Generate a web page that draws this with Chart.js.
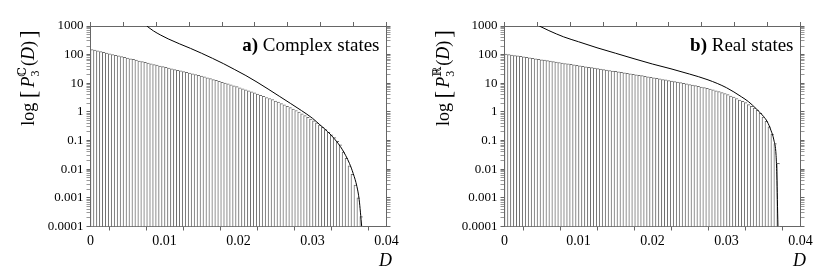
<!DOCTYPE html>
<html>
<head>
<meta charset="utf-8">
<script src="https://cdn.jsdelivr.net/npm/chart.js@4.4.1/dist/chart.umd.min.js"></script>
<style>
  body { margin: 0; background: #fff; }
  #wrap { display: flex; width: 830px; height: 280px; }
  canvas { display: block; }
</style>
</head>
<body>
<div id="wrap">
  <canvas id="chartA" width="415" height="280"></canvas>
  <canvas id="chartB" width="415" height="280"></canvas>
</div>
<script>
// histogram bin width in D
const binWidth = 0.0004;

// a) complex states, histogram heights (bins of 0.0004 starting at D = 0)
const barsA = [151, 143, 135, 127, 120, 114, 107, 101, 95, 90,
  85, 80, 76, 72, 68, 64, 60, 57, 54, 51,
  48, 45, 43, 40, 38, 36, 34, 32, 30, 28.5,
  27, 25.4, 24, 22.6, 21.4, 20.2, 19.1, 18.0, 16.7, 15.6,
  14.5, 13.5, 12.6, 11.7, 10.9, 10.2, 9.5, 8.8, 8.2, 7.6,
  7.0, 6.4, 5.9, 5.4, 5.0, 4.6, 4.2, 3.8, 3.5, 3.2,
  2.95, 2.7, 2.4, 2.2, 1.95, 1.78, 1.58, 1.41, 1.26, 1.12,
  0.98, 0.85, 0.74, 0.65, 0.56, 0.49, 0.42, 0.35, 0.29, 0.24,
  0.195, 0.16, 0.126, 0.095, 0.071, 0.04, 0.024, 0.013, 0.0066, 0.0028,
  0.001, 0.00022];

// a) analytic curve
const curveA_D = [0.0076, 0.0085, 0.0095, 0.0105, 0.012, 0.0135, 0.015, 0.0165, 0.018, 0.0195,
  0.021, 0.0225, 0.024, 0.0255, 0.027, 0.0285, 0.030, 0.031, 0.032, 0.033,
  0.034, 0.035, 0.0355, 0.036, 0.0363, 0.03665];
const curveA_P = [1000, 676, 479, 355, 240, 166, 112, 74, 48, 30,
  18.6, 11.0, 6.3, 3.55, 2.0, 1.12, 0.60, 0.355, 0.21, 0.112,
  0.05, 0.0158, 0.0071, 0.0025, 0.00089, 0.0001];

// b) real states, histogram heights
const barsB = [105, 101, 97, 93.5, 90, 86.7, 83.5, 80.4, 77.4, 74.5,
  71.8, 69.2, 66.5, 64.1, 61.7, 59.4, 57.3, 55.1, 53.1, 51.1,
  49.2, 47.4, 45.6, 44.0, 42.3, 40.7, 39.3, 37.8, 36.4, 35.0,
  33.7, 32.5, 31.3, 30.1, 29.0, 27.9, 26.9, 25.9, 24.9, 24.0,
  23.1, 22.3, 21.4, 20.7, 19.9, 19.1, 18.4, 17.6, 16.9, 16.2,
  15.6, 14.9, 14.3, 13.6, 13.1, 12.5, 12.0, 11.5, 11.0, 10.5,
  10.0, 9.5, 9.1, 8.7, 8.3, 7.9, 7.4, 7.1, 6.7, 6.3,
  5.9, 5.5, 5.1, 4.7, 4.4, 4.0, 3.6, 3.3, 2.95, 2.6,
  2.35, 2.1, 1.8, 1.58, 1.35, 1.15, 0.89, 0.66, 0.47, 0.30,
  0.166, 0.079, 0.016];

// b) analytic curve
const curveB_D = [0.0047, 0.006, 0.008, 0.01, 0.0125, 0.015, 0.0175, 0.02, 0.0225, 0.025,
  0.0275, 0.03, 0.032, 0.033, 0.034, 0.035, 0.0355, 0.036, 0.0364, 0.0367,
  0.0368, 0.03695];
const curveB_P = [1000, 690, 417, 282, 174, 112, 72, 47, 32, 21,
  13.2, 7.0, 3.4, 2.25, 1.3, 0.7, 0.46, 0.23, 0.105, 0.03,
  0.0063, 0.0001];

// axes
const xLabels = ['0', '0.01', '0.02', '0.03', '0.04'];
const yDecades = [0.0001, 0.001, 0.01, 0.1, 1, 10, 100, 1000];
const yLabels = ['0.0001', '0.001', '0.01', '0.1', '1', '10', '100', '1000'];

const SERIF = "'Liberation Serif', 'DejaVu Serif', serif";
const AXIS = '#666';

let yTicks = [];
yDecades.forEach((d, i) => {
    yTicks.push(d);
    if (i < yDecades.length - 1) {
        for (let k = 2; k <= 9; k++) yTicks.push(d * k);
    }
});

const xTickLabel = (v) => {
    const k = Math.round(v / 0.005);
    return k % 2 === 0 ? xLabels[k / 2] : '';
}

const yTickLabel = (v) => {
    const i = yDecades.indexOf(v);
    return i >= 0 ? yLabels[i] : '';
}

// text that chart.js titles can't do (sub/superscripts, mixed bold)
const panelText = {
    id: 'panelText',
    afterDraw(chart, args, opts) {
        const ctx = chart.ctx;
        const area = chart.chartArea;
        ctx.save();
        ctx.fillStyle = '#000';
        ctx.textBaseline = 'alphabetic';

        // "a) Complex states"
        ctx.font = `bold 19px ${SERIF}`;
        const wTag = ctx.measureText(opts.tag).width;
        ctx.font = `19px ${SERIF}`;
        const name = ' ' + opts.name;
        const wName = ctx.measureText(name).width;
        const tx = area.right - 7 - wTag - wName;
        const ty = area.top + 25;
        ctx.font = `bold 19px ${SERIF}`;
        ctx.fillText(opts.tag, tx, ty);
        ctx.font = `19px ${SERIF}`;
        ctx.fillText(name, tx + wTag, ty);

        // x title
        ctx.font = `italic 18px ${SERIF}`;
        ctx.textAlign = 'center';
        ctx.fillText('D', area.right - 1, 266);
        ctx.textAlign = 'left';

        // y title: log [P_3^F(D)]
        const big = `18px ${SERIF}`, it = `italic 18px ${SERIF}`;
        const small = `12px ${SERIF}`, brk = `23px ${SERIF}`;
        const parts = [
            ['log', big, 0], [' ', big, 0], ['[', brk, 2], [' ', small, 0],
            ['P', it, 0], ['#', small, 0], ['(', big, 0], ['D', it, 0],
            [')', big, 0], [' ', small, 0], [']', brk, 2]
        ];
        const width = (p) => {
            ctx.font = p[1];
            if (p[0] === '#') {
                return Math.max(ctx.measureText('3').width, ctx.measureText(opts.field).width) + 1;
            }
            return ctx.measureText(p[0]).width;
        }
        let total = 0;
        parts.forEach(p => total += width(p));
        ctx.translate(opts.titleX, opts.titleY);
        ctx.rotate(-Math.PI / 2);
        let x = -total / 2;
        parts.forEach(p => {
            const w = width(p);
            ctx.font = p[1];
            if (p[0] === '#') {
                ctx.fillText('3', x, 6 + 5);
                ctx.fillText(opts.field, x, 6 - 8);
            } else {
                ctx.fillText(p[0], x, 6 + p[2]);
            }
            x += w;
        });
        ctx.restore();
    }
};

const makeChart = (id, bars, curveD, curveP, text, box) => {
    const barPts = bars.map((v, i) => ({x: +(binWidth * (i + 0.5)).toFixed(5), y: v}));
    const curvePts = curveD.map((d, i) => ({x: d, y: curveP[i]}));
    const tickGrid = (len) => ({
        drawOnChartArea: false,
        drawTicks: true,
        tickLength: len,
        tickColor: AXIS,
        color: AXIS
    });
    const yGrid = {
        drawOnChartArea: false,
        drawTicks: true,
        tickLength: 4,
        color: AXIS,
        tickColor: (c) => yDecades.indexOf(c.tick ? c.tick.value : 0) >= 0 ? AXIS : '#999'
    };
    return new Chart(document.getElementById(id), {
        type: 'bar',
        data: {
            datasets: [{
                    type: 'line',
                    data: curvePts,
                    borderColor: '#000',
                    borderWidth: 1,
                    pointRadius: 0,
                    cubicInterpolationMode: 'monotone',
                    order: 0
                }, {
                    type: 'bar',
                    data: barPts,
                    backgroundColor: '#fff',
                    borderColor: '#6e6e6e',
                    borderWidth: {top: 1, left: 1, right: 0, bottom: 0},
                    barPercentage: 1,
                    categoryPercentage: 1,
                    order: 1
                }]
        },
        options: {
            responsive: false,
            animation: false,
            events: [],
            layout: {padding: 0},
            plugins: {
                legend: {display: false},
                tooltip: {enabled: false},
                panelText: text
            },
            scales: {
                x: {
                    type: 'linear',
                    position: 'bottom',
                    min: 0,
                    max: 0.04,
                    offset: false,
                    grid: tickGrid(4),
                    border: {display: true, color: AXIS},
                    ticks: {
                        stepSize: 0.005,
                        autoSkip: false,
                        maxRotation: 0,
                        padding: 2,
                        color: '#000',
                        font: {family: SERIF, size: 14},
                        callback: xTickLabel
                    },
                    afterFit: (s) => { s.height = 280 - box.bottom; }
                },
                x2: {
                    type: 'linear',
                    position: 'top',
                    min: 0,
                    max: 0.04,
                    grid: tickGrid(4),
                    border: {display: true, color: AXIS},
                    ticks: {stepSize: 0.005, display: false},
                    afterFit: (s) => { s.height = box.top; }
                },
                y: {
                    type: 'logarithmic',
                    position: 'left',
                    min: 0.0001,
                    max: 1000,
                    grid: yGrid,
                    border: {display: true, color: AXIS},
                    afterBuildTicks: (s) => { s.ticks = yTicks.map(v => ({value: v})); },
                    ticks: {
                        autoSkip: false,
                        padding: 3,
                        color: '#000',
                        font: {family: SERIF, size: 13},
                        callback: yTickLabel
                    },
                    afterFit: (s) => { s.width = box.left; }
                },
                y2: {
                    type: 'logarithmic',
                    position: 'right',
                    min: 0.0001,
                    max: 1000,
                    grid: yGrid,
                    border: {display: true, color: AXIS},
                    afterBuildTicks: (s) => { s.ticks = yTicks.map(v => ({value: v})); },
                    ticks: {display: false},
                    afterFit: (s) => { s.width = 415 - box.right; }
                }
            }
        },
        plugins: [panelText]
    });
}

makeChart('chartA', barsA, curveA_D, curveA_P,
    {tag: 'a)', name: 'Complex states', field: '\u2102', titleX: 28, titleY: 78},
    {left: 90.5, right: 386.5, top: 26, bottom: 226.5});

makeChart('chartB', barsB, curveB_D, curveB_P,
    {tag: 'b)', name: 'Real states', field: '\u211D', titleX: 28, titleY: 78},
    {left: 89.5, right: 385.5, top: 26, bottom: 226.5});
</script>
</body>
</html>
